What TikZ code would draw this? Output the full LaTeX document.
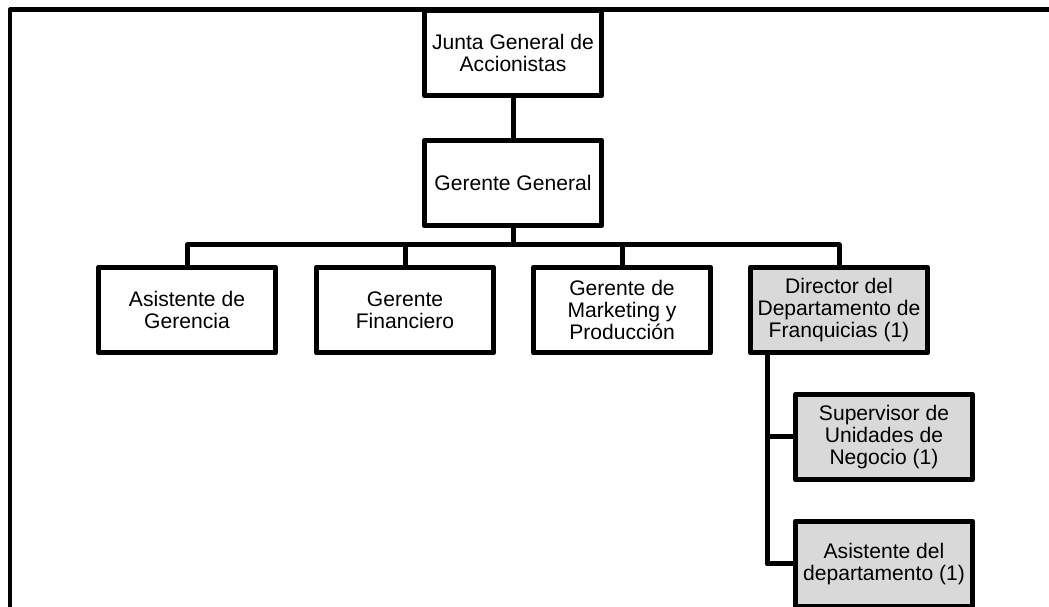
\documentclass[tikz,border=0pt]{standalone}
\usepackage{fontspec}
\setmainfont{Liberation Sans}
\usepackage{tikz}
\usetikzlibrary{calc,positioning}

\begin{document}
\begin{tikzpicture}[x=0.02cm,y=-0.02cm,
		box/.style={draw,line width=0.1cm,line join=round,fill=white,
			minimum width=3.54cm,minimum height=1.72cm,align=center,
			inner sep=2pt,font=\fontsize{12}{12.6}\selectfont},
		grey/.style={box,fill=black!15},
		link/.style={line width=0.1cm,line join=round}]
		\useasboundingbox (0,0) rectangle (1049,607);

		% marco
		\draw[link] (10,607) -- (10,10) -- (1049,10);

		\begin{scope}[every node/.style={box}]
			\node (JG) at (513,53) {Junta General de\\Accionistas};
			\node (GG) at (513,183) {Gerente General};
			\node (AG) at (187,310) {Asistente de\\Gerencia};
			\node (GF) at (405,310) {Gerente\\Financiero};
			\node (GM) at (622,310) {Gerente de\\Marketing y\\Producción};
		\end{scope}

		\begin{scope}[every node/.style={grey}]
			\node (DF) at (839,310) {Director del\\Departamento de\\Franquicias (1)};
			\node (SU) at (884,437) {Supervisor de\\Unidades de\\Negocio (1)};
			\node (AD) at (884,564) {Asistente del\\departamento (1)};
		\end{scope}

		\coordinate (bar) at (513,245);
		\coordinate (sp) at (767,0);

		\begin{scope}[every path/.style={link}]
			\draw (JG) -- (GG);
			\draw (GG) -- (bar);
			\draw (AG.north) |- (bar) -| (DF.north);
			\draw (GF.north) -- (GF.north |- bar);
			\draw (GM.north) -- (GM.north |- bar);
			\draw (DF.south -| sp) |- (AD.west);
			\draw (SU.west) -- (SU.west -| sp);
		\end{scope}
	\end{tikzpicture}
\end{document}
